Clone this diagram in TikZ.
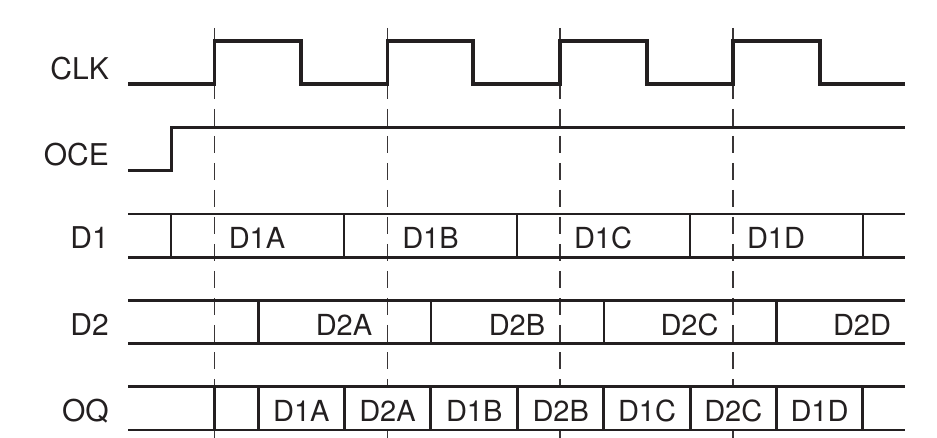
\documentclass[tikz,border=0pt]{standalone}
\usepackage{fontspec}
\setmainfont{TeX Gyre Heros}
\definecolor{ink}{HTML}{231F20}
\begin{document}
\begin{tikzpicture}[x=1pt,y=-1pt,
  sig/.style={line width=3.1pt, draw=ink, line join=miter},
  bus/.style={line width=2.9pt, draw=ink},
  guide/.style={line width=1.5pt, draw=ink!90, dash pattern=on 17pt off 10pt},
  lbl/.style={inner sep=0pt, anchor=base east, text=ink, font=\fontsize{30}{30}\selectfont},
  blbl/.style={inner sep=0pt, anchor=base, text=ink, font=\fontsize{29}{29}\selectfont}]
\useasboundingbox (0,0) rectangle (937,438);
% dashed clock-edge guides (interrupted inside the OQ bus)
\foreach \x/\n in {214.5/g1,387.5/g2,560/g3,733/g4}{
  \coordinate (\n t) at (\x,28);
  \coordinate (\n m) at (\x,386.7);
  \coordinate (\n n) at (\x,430);
  \coordinate (\n b) at (\x,438);
  \draw[guide] (\n t) -- (\n m);
  \draw[guide] (\n n) -- (\n b);
}
% CLK
\draw[sig] (128,84) -- (214.5,84) -- (214.5,41) -- (301,41) -- (301,84) -- (387.5,84) -- (387.5,41) -- (473,41) -- (473,84) -- (560,84) -- (560,41) -- (647,41) -- (647,84) -- (733,84) -- (733,41) -- (820,41) -- (820,84) -- (905,84);
% OCE
\draw[sig] (128,170.7) -- (171.7,170.7) -- (171.7,127.3) -- (905,127.3);
% D1 bus
\draw[bus] (128,214) -- (905,214);
\draw[bus] (128,257.3) -- (905,257.3);
\foreach \x in {171,344,517,690,863}{ \draw[bus] (\x,214) -- (\x,257.3); }
% D2 bus
\draw[bus] (128,300.3) -- (905,300.3);
\draw[bus] (128,343.7) -- (905,343.7);
\foreach \x in {258.3,431,604,776.3}{ \draw[bus] (\x,300.3) -- (\x,343.7); }
% OQ bus
\draw[bus] (128,386.7) -- (905,386.7);
\draw[bus] (128,430) -- (905,430);
\foreach \x in {214.5,258.3,344.3,430.7,517.7,603.7,690.3,776.3,862.7}{ \draw[bus] (\x,386.7) -- (\x,430); }
% signal names
\node[lbl] (lclk) at (109,80) {CLK};
\node[lbl] (loce) at (109,165.5) {OCE};
\node[lbl] (ld1) at (109,248.3) {D1};
\node[lbl] (ld2) at (109,335) {D2};
\node[lbl] (loq) at (109,421.8) {OQ};
% D1 values
\node[blbl] (d1a) at (257,248.3) {D1A};
\node[blbl] (d1b) at (430.5,248.3) {D1B};
\node[blbl] (d1c) at (603,248.3) {D1C};
\node[blbl] (d1d) at (776,248.3) {D1D};
% D2 values
\node[blbl] (d2a) at (344,335) {D2A};
\node[blbl] (d2b) at (517,335) {D2B};
\node[blbl] (d2c) at (689.5,335) {D2C};
\node[blbl] (d2d) at (862,335) {D2D};
% OQ values
\node[blbl] (q1) at (301.3,421.8) {D1A};
\node[blbl] (q2) at (387.5,421.8) {D2A};
\node[blbl] (q3) at (474.2,421.8) {D1B};
\node[blbl] (q4) at (560.7,421.8) {D2B};
\node[blbl] (q5) at (647,421.8) {D1C};
\node[blbl] (q6) at (733.3,421.8) {D2C};
\node[blbl] (q7) at (819.5,421.8) {D1D};
\end{tikzpicture}
\end{document}
